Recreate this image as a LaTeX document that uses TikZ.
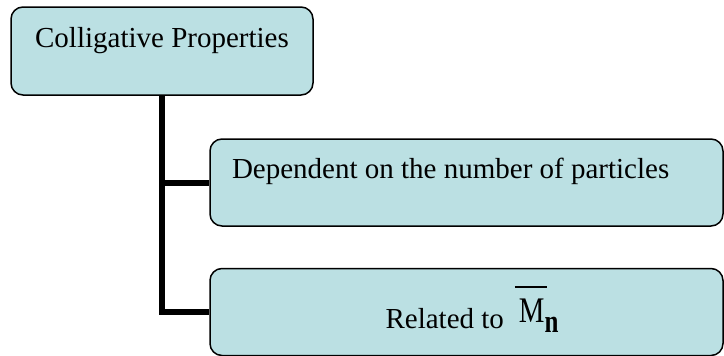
\documentclass[tikz,border=0pt]{standalone}
\usepackage{fontspec}
\setmainfont{Liberation Serif}
\usepackage{graphicx}
\usetikzlibrary{trees}
\definecolor{boxfill}{RGB}{187,224,227}
\newcommand{\mnbar}{\hspace{11pt}\rlap{\raisebox{40pt}{\rule{32pt}{2pt}}}\hspace{4pt}%
  \raisebox{6pt}{\scalebox{0.8}[1]{\fontsize{36pt}{40pt}\selectfont M}}%
  \raisebox{-4pt}{\scalebox{1}[1.3]{\fontsize{25pt}{30pt}\selectfont\bfseries n}}}
\begin{document}
\begin{tikzpicture}[x=1pt,y=-1pt,
  listbox/.style={draw,fill=boxfill,line width=1.5pt,rounded corners=12pt,
    font=\fontsize{29pt}{34pt}\selectfont},
  edge from parent/.style={draw,line width=6pt},
  edge from parent path={(\tikzparentnode.south) |- (\tikzchildnode.west)},
  grow via three points={one child at (304.5pt,-131.5pt)
    and two children at (304.5pt,-131.5pt) and (304.5pt,-261pt)}]
\useasboundingbox (0,0) rectangle (724,356);
\node [listbox,minimum width=302pt,minimum height=88pt,text height=20pt,text depth=28pt]
  (colprops) at (162,51) {Colligative Properties}
  child {
    node [listbox,minimum width=513pt,minimum height=87pt,text width=469pt,inner xsep=22pt,
      align=flush left,text height=20pt,text depth=29pt] (particles)
      {Dependent on the number of particles}
  }
  child {
    node [listbox,minimum width=513pt,minimum height=87pt,text height=40pt,text depth=8pt]
      (molmass) {\hspace*{11pt}Related to\mnbar}
  };
\end{tikzpicture}
\end{document}
